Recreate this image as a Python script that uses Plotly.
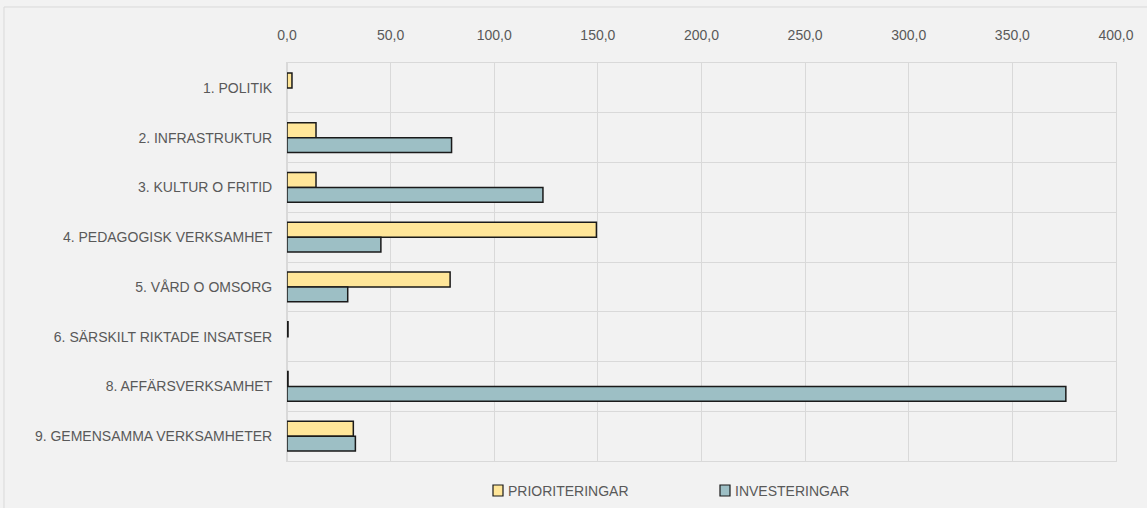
import plotly.graph_objects as go

categories = [
    "1. POLITIK",
    "2. INFRASTRUKTUR",
    "3. KULTUR O FRITID",
    "4. PEDAGOGISK VERKSAMHET",
    "5. VÅRD O OMSORG",
    "6. SÄRSKILT RIKTADE INSATSER",
    "8. AFFÄRSVERKSAMHET",
    "9. GEMENSAMMA VERKSAMHETER",
]
prioriteringar = [2.4, 14.0, 14.0, 149.3, 78.7, 0.5, 0.5, 32.0]
investeringar = [None, 79.4, 123.5, 45.3, 29.3, None, 375.8, 33.0]
x_ticks = [0, 50, 100, 150, 200, 250, 300, 350, 400]
x_ticktext = ["0,0", "50,0", "100,0", "150,0", "200,0", "250,0", "300,0", "350,0", "400,0"]
series_names = ["PRIORITERINGAR", "INVESTERINGAR"]
series_colors = ["#ffe699", "#9dbfc5"]

W, H = 1147, 508
L, R, T, B = 287, 31, 63, 47
pw, ph = W - L - R, H - T - B

def px_x(x):
    return (x - L) / pw

def px_y(y):
    return 1 - (y - T) / ph

font_family = "Liberation Sans, Arial, sans-serif"
txt_col = "#595959"
edge_col = "#1a1a1a"
grid_col = "#d9d9d9"

fig = go.Figure()
for name, vals, col in zip(series_names, [prioriteringar, investeringar], series_colors):
    fig.add_trace(go.Bar(
        y=categories, x=vals, orientation="h", name=name,
        marker=dict(color=col, line=dict(color=edge_col, width=1.5)),
        showlegend=False,
    ))

shapes = [
    dict(type="rect", xref="paper", yref="paper",
         x0=px_x(4), x1=px_x(1160), y0=px_y(520), y1=px_y(7),
         line=dict(color=grid_col, width=1), fillcolor="rgba(0,0,0,0)", layer="below"),
]
annotations = []
legend_x = [493, 720]
for name, col, lx in zip(series_names, series_colors, legend_x):
    shapes.append(dict(type="rect", xref="paper", yref="paper",
                       x0=px_x(lx), x1=px_x(lx + 10), y0=px_y(496), y1=px_y(485),
                       line=dict(color=edge_col, width=1.2), fillcolor=col))
    annotations.append(dict(xref="paper", yref="paper", x=px_x(lx + 13), y=px_y(490.5),
                            xanchor="left", yanchor="middle", text=name, showarrow=False,
                            font=dict(family=font_family, size=14, color=txt_col)))

fig.update_layout(
    width=W, height=H,
    margin=dict(l=L, r=R, t=T, b=B, autoexpand=False),
    paper_bgcolor="#f2f2f2", plot_bgcolor="#f2f2f2",
    barmode="group", bargap=0.4, bargroupgap=0,
    font=dict(family=font_family, size=14, color=txt_col),
    showlegend=False,
    xaxis=dict(
        range=[0, 400], side="top", tickvals=x_ticks, ticktext=x_ticktext,
        showgrid=True, gridcolor=grid_col, gridwidth=1,
        zeroline=True, zerolinecolor=grid_col, zerolinewidth=1,
        showline=True, mirror=True, linecolor=grid_col, linewidth=1,
        ticks="", ticklabelstandoff=16,
        tickfont=dict(size=14, color=txt_col), fixedrange=True,
    ),
    yaxis=dict(
        type="category", autorange="reversed", tickson="boundaries",
        showgrid=True, gridcolor=grid_col, gridwidth=1,
        showline=True, mirror=True, linecolor=grid_col, linewidth=1,
        ticks="", ticklabelstandoff=11,
        tickfont=dict(size=14, color=txt_col), fixedrange=True,
    ),
    shapes=shapes,
    annotations=annotations,
)

fig.write_html(
    "out.html",
    config={"displayModeBar": False},
    post_script="document.body.style.margin='0';document.body.style.background='#f2f2f2';",
)
